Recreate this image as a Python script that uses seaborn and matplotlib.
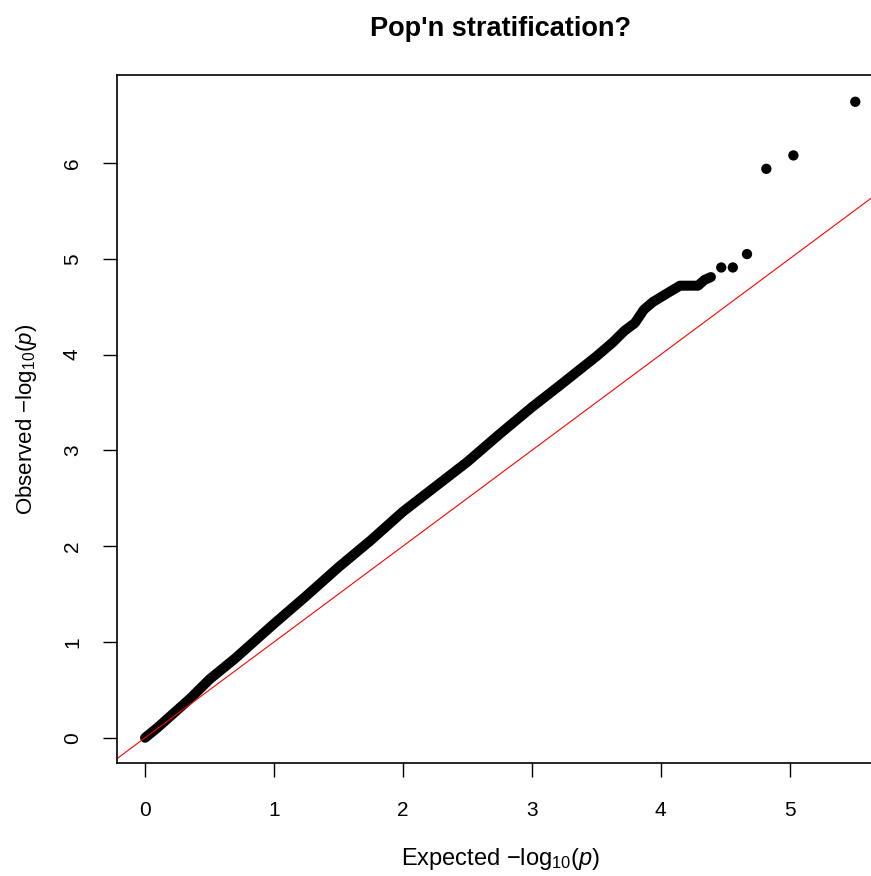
import matplotlib
matplotlib.use("Agg")
import matplotlib.pyplot as plt
import seaborn as sns
import pandas as pd

# QQ plot values (expected vs observed -log10 p)
band_expected = [0, 0.1, 0.2, 0.35, 0.5, 0.7, 1.0, 1.25, 1.5, 1.75, 2.0, 2.25,
                 2.5, 2.75, 3.0, 3.2, 3.5, 3.63, 3.72, 3.80, 3.87, 3.94, 4.05,
                 4.15, 4.29, 4.34, 4.39]
band_observed = [0, 0.11, 0.23, 0.41, 0.61, 0.83, 1.19, 1.48, 1.78, 2.06, 2.36,
                 2.62, 2.88, 3.17, 3.45, 3.66, 3.98, 4.13, 4.25, 4.33, 4.47,
                 4.55, 4.64, 4.72, 4.72, 4.78, 4.81]
tail_expected = [4.47, 4.56, 4.67, 4.82, 5.03, 5.51]
tail_observed = [4.91, 4.91, 5.05, 5.94, 6.08, 6.64]
x_ticks = [0, 1, 2, 3, 4, 5]
y_ticks = [0, 1, 2, 3, 4, 5, 6]

band = pd.DataFrame({"expected": band_expected, "observed": band_observed})
tail = pd.DataFrame({"expected": tail_expected, "observed": tail_observed})

sns.set_style("white")
plt.rcParams["font.family"] = ["Liberation Sans", "DejaVu Sans"]
plt.rcParams["mathtext.fontset"] = "custom"
plt.rcParams["mathtext.rm"] = "Liberation Sans"
plt.rcParams["mathtext.it"] = "Liberation Sans:italic"
plt.rcParams["text.color"] = "black"
plt.rcParams["axes.labelcolor"] = "black"

fig = plt.figure(figsize=(8.71, 8.76), dpi=100)
ax = fig.add_axes([0.134, 0.1287, 0.8805, 0.7853])

sns.lineplot(data=band, x="expected", y="observed", sort=False, estimator=None,
             color="black", linewidth=7.2, solid_capstyle="round", ax=ax)
sns.scatterplot(data=tail, x="expected", y="observed", color="black", s=55,
                edgecolor="none", ax=ax)
ax.axline((0, 0), slope=1, color="red", linewidth=0.8)

ax.set_xlim(-0.22, 5.73)
ax.set_ylim(-0.266, 6.916)
ax.set_xticks(x_ticks)
ax.set_yticks(y_ticks)
ax.tick_params(axis="both", direction="out", length=10, width=1, color="black",
               labelsize=15, labelcolor="black")
ax.tick_params(axis="x", pad=17, bottom=True)
ax.tick_params(axis="y", pad=15, left=True, labelrotation=90)
for lbl in ax.get_yticklabels():
    lbl.set_verticalalignment("center")

for side in ["left", "bottom", "top", "right"]:
    ax.spines[side].set_visible(True)
    ax.spines[side].set_color("black")
    ax.spines[side].set_linewidth(1.2)

ax.set_xlabel(r"Expected $-\log_{10}\!(p)$", fontsize=17, labelpad=19, color="black")
ax.set_ylabel(r"Observed $-\log_{10}\!(p)$", fontsize=16, labelpad=17, color="black")
ax.set_title("Pop'n stratification?", fontsize=19.5, fontweight="bold", pad=28,
             color="black")

fig.savefig("out.png", dpi=100)
